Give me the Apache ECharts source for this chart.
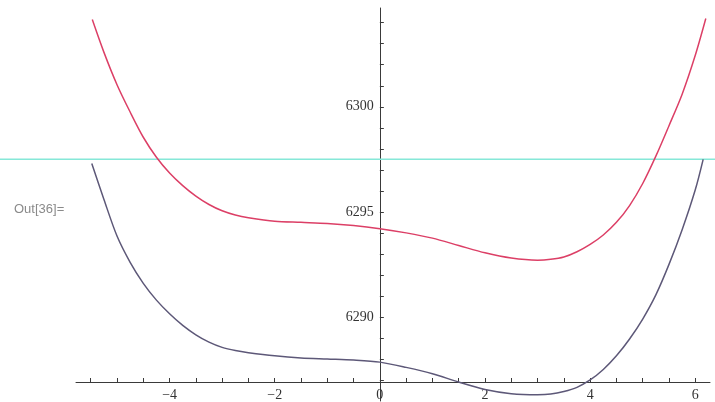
<!DOCTYPE html>
<html><head><meta charset="utf-8">
<script src="https://cdn.jsdelivr.net/npm/echarts@6/dist/echarts.min.js"></script>
<style>html,body{margin:0;padding:0;background:#fff}#c{width:715px;height:402px}</style>
</head><body><div id="c"></div>
<script>
// upper (red) curve
const redXs = [-5.47, -5.25, -5, -4.75, -4.5, -4.25, -4, -3.75, -3.5, -3.25, -3, -2.75, -2.5, -2, -1.5, -1, -0.5, 0, 0.5, 1, 1.5, 2, 2.5, 3, 3.25, 3.5, 3.75, 4, 4.25, 4.5, 4.75, 5, 5.25, 5.5, 5.75, 6, 6.2];
const redValues = [6304.15, 6302.6, 6301.05, 6299.75, 6298.55, 6297.6, 6296.85, 6296.25, 6295.75, 6295.35, 6295.05, 6294.85, 6294.72, 6294.55, 6294.5, 6294.45, 6294.35, 6294.2, 6294.0, 6293.75, 6293.4, 6293.05, 6292.8, 6292.7, 6292.74, 6292.85, 6293.1, 6293.45, 6293.9, 6294.5, 6295.3, 6296.35, 6297.65, 6299.1, 6300.6, 6302.45, 6304.2];
// lower (dark/purple) curve
const lowerXs = [-5.48, -5.25, -5, -4.75, -4.5, -4.25, -4, -3.75, -3.5, -3.25, -3, -2.75, -2.5, -2, -1.5, -1, -0.5, 0, 0.5, 1, 1.5, 2, 2.5, 3, 3.25, 3.5, 3.75, 4, 4.25, 4.5, 4.75, 5, 5.25, 5.5, 5.75, 6, 6.15];
const lowerValues = [6297.3, 6295.6, 6293.85, 6292.6, 6291.6, 6290.8, 6290.15, 6289.6, 6289.15, 6288.8, 6288.55, 6288.4, 6288.3, 6288.15, 6288.05, 6288.0, 6287.95, 6287.85, 6287.6, 6287.3, 6286.9, 6286.55, 6286.35, 6286.3, 6286.33, 6286.45, 6286.65, 6287.0, 6287.5, 6288.15, 6288.95, 6289.9, 6291.05, 6292.5, 6294.15, 6296.05, 6297.5];
// horizontal reference line (drawn across the full picture width)
const refLevel = 6297.5;
// ticks
const xTickLabels = [-4, -2, 0, 2, 4, 6];
const xMinorTicks = [-5.5, -5, -4.5, -4, -3.5, -3, -2.5, -2, -1.5, -1, -0.5, 0.5, 1, 1.5, 2, 2.5, 3, 3.5, 4, 4.5, 5, 5.5, 6];
const yTickLabels = [6290, 6295, 6300];
const yMinorTicks = [6287, 6288, 6289, 6290, 6291, 6292, 6293, 6294, 6295, 6296, 6297, 6298, 6299, 6300, 6301, 6302, 6303, 6304];
const outLabel = 'Out[36]=';

const X_MIN = -5.78, X_MAX = 6.28, Y_MIN = 6286, Y_MAX = 6304.7;
const GRID_LEFT = 76, GRID_RIGHT = 5, W = 715;
const pxPerUnit = (W - GRID_LEFT - GRID_RIGHT) / (X_MAX - X_MIN);
const fullMin = X_MIN - GRID_LEFT / pxPerUnit;
const fullMax = X_MAX + GRID_RIGHT / pxPerUnit;
const yAxisOffset = -(0 - X_MIN) * pxPerUnit;

const chart = echarts.init(document.getElementById('c'));
const axisColor = '#3a3a3a';
const serif = 'Liberation Serif';
chart.setOption({
  backgroundColor: '#ffffff',
  animation: false,
  title: {
    text: outLabel, left: 9, top: 198,
    textStyle: {fontFamily: 'Liberation Sans', fontSize: 13, fontWeight: 'normal', color: '#8a8a8a'}
  },
  grid: [
    {left: GRID_LEFT, right: GRID_RIGHT, top: 8, bottom: 1},
    {left: 0, right: 0, top: 8, bottom: 1}
  ],
  xAxis: [{
    type: 'value', min: X_MIN, max: X_MAX, offset: -19, gridIndex: 0,
    axisLine: {onZero: false, lineStyle: {color: axisColor, width: 1}},
    axisTick: {show: true, inside: true, length: 4, customValues: xMinorTicks, lineStyle: {color: axisColor}},
    axisLabel: {customValues: xTickLabels, color: '#333', fontFamily: serif, fontSize: 14, margin: 6,
      formatter: v => v < 0 ? '\u2212' + (-v) : String(v)},
    splitLine: {show: false}
  }, {
    type: 'value', min: fullMin, max: fullMax, gridIndex: 1, show: false
  }],
  yAxis: [{
    type: 'value', min: Y_MIN, max: Y_MAX, gridIndex: 0, position: 'left', offset: yAxisOffset,
    axisLine: {onZero: false, lineStyle: {color: axisColor, width: 1}},
    axisTick: {show: true, inside: true, length: 4, customValues: yMinorTicks, lineStyle: {color: axisColor}},
    axisLabel: {customValues: yTickLabels, color: '#333', fontFamily: serif, fontSize: 14, margin: 6,
      formatter: v => String(v)},
    splitLine: {show: false}
  }, {
    type: 'value', min: Y_MIN, max: Y_MAX, gridIndex: 1, show: false
  }],
  series: [
    {type: 'line', xAxisIndex: 1, yAxisIndex: 1, data: [[fullMin, refLevel], [fullMax, refLevel]], symbol: 'none',
      lineStyle: {color: '#86e8d8', width: 1.5}, z: 1},
    {type: 'line', data: redXs.map((x, i) => [x, redValues[i]]), symbol: 'none', smooth: 0.3,
      lineStyle: {color: '#dc3f66', width: 1.5}, z: 3},
    {type: 'line', data: lowerXs.map((x, i) => [x, lowerValues[i]]), symbol: 'none', smooth: 0.3,
      lineStyle: {color: '#5d5878', width: 1.5}, z: 3}
  ]
});
</script></body></html>
